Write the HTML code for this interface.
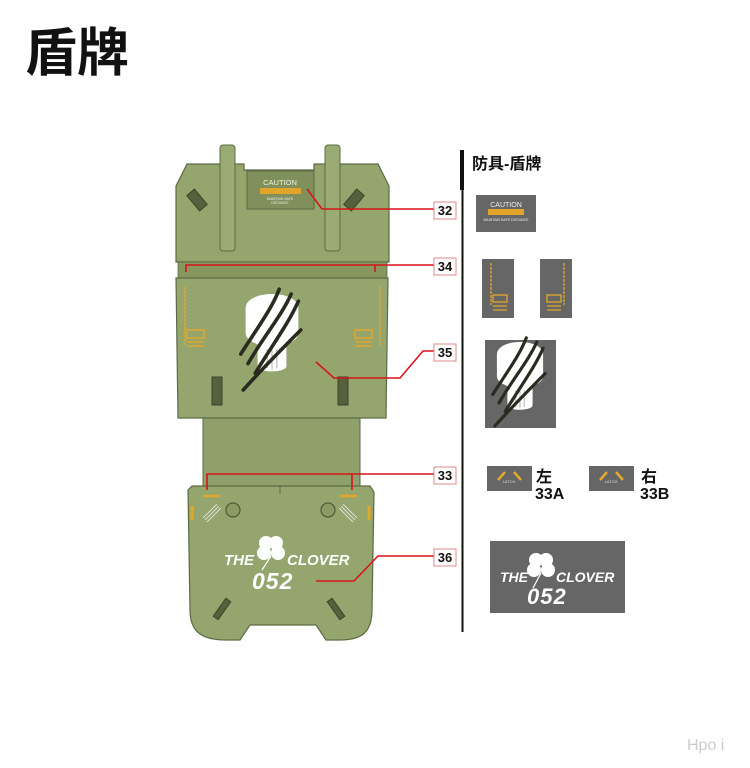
<!DOCTYPE html>
<html><head><meta charset="utf-8"><style>
html,body{margin:0;padding:0;background:#fff;}
svg{display:block}
</style></head><body>
<svg width="750" height="768" viewBox="0 0 750 768" xmlns="http://www.w3.org/2000/svg" font-family="Liberation Sans, Noto Sans CJK SC, sans-serif">
<defs>
<g id="skull">
  <path d="M-22,-28 C-22,-44 22,-44 22,-28 L22,-8 C22,-2 16,0 12,2 L12,20 C12,26 -12,26 -12,20 L-12,2 C-16,0 -22,-2 -22,-8 Z" fill="#fff"/>
  <path d="M-4,6 L-4,22 M0,6 L0,23 M4,6 L4,22" stroke="#bbb" stroke-width="1"/>
</g>
<g id="claws" fill="none" stroke="#2a2a20" stroke-width="3" stroke-linecap="round">
  <path d="M-26,10 C-12,-12 0,-28 6,-44"/>
  <path d="M-20,18 C-6,-6 8,-22 16,-40"/>
  <path d="M-14,26 C2,0 14,-16 22,-34"/>
  <path d="M-24,40 C-6,20 12,2 24,-10"/>
</g>
</defs>

<text x="25" y="71" font-size="52" font-weight="bold" fill="#111">盾牌</text>

<rect x="203" y="410" width="157" height="80" fill="#8fa06a" stroke="#5d6a44" stroke-width="1"/>

<path d="M176,186 L187,164 L244,164 L244,170 L314,170 L314,164 L378,164 L389,186 L389,262 L176,262 Z" fill="#94a56e" stroke="#5d6a44" stroke-width="1.2"/>
<rect x="247" y="171" width="67" height="38" fill="#7f905c" stroke="#5d6a44"/>
<text x="280" y="185" font-size="7.5" fill="#f4f0dc" text-anchor="middle">CAUTION</text>
<rect x="260" y="188" width="41" height="6" fill="#e0a52a"/>
<text x="280" y="200" font-size="3.5" fill="#eee" text-anchor="middle">MAINTAIN SAFE</text>
<text x="280" y="204" font-size="3.5" fill="#eee" text-anchor="middle">DISTANCE</text>
<rect x="220" y="145" width="15" height="106" rx="3" fill="#9aab74" stroke="#5d6a44"/>
<rect x="325" y="145" width="15" height="106" rx="3" fill="#9aab74" stroke="#5d6a44"/>
<rect x="192" y="190" width="10" height="20" fill="#55613c" stroke="#3c4529" transform="rotate(-40 197 200)"/>
<rect x="349" y="190" width="10" height="20" fill="#55613c" stroke="#3c4529" transform="rotate(40 354 200)"/>

<rect x="178" y="262" width="209" height="16" fill="#869760" stroke="#5d6a44" stroke-width="0.8"/>

<path d="M176,278 L388,278 L386,418 L178,418 Z" fill="#94a56e" stroke="#5d6a44" stroke-width="1.2"/>
<g fill="none" stroke="#e3a72a" stroke-width="1.5">
  <path d="M185,287 L185,345" stroke-dasharray="3,1"/>
  <rect x="187" y="330" width="17" height="8"/>
  <path d="M187,342 L204,342 M187,346 L204,346"/>
  <path d="M380,287 L380,345" stroke-dasharray="3,1"/>
  <rect x="355" y="330" width="17" height="8"/>
  <path d="M355,342 L372,342 M355,346 L372,346"/>
</g>
<g transform="translate(272,342) scale(1.2)"><use href="#skull"/><use href="#claws"/></g>
<rect x="212" y="377" width="10" height="28" fill="#55613c" stroke="#3c4529"/>
<rect x="338" y="377" width="10" height="28" fill="#55613c" stroke="#3c4529"/>

<path d="M188,490 L192,486 L370,486 L374,492 L372,610 C372,632 362,640 340,640 L326,640 L316,625 L250,625 L240,640 L226,640 C202,640 190,632 190,610 Z" fill="#94a56e" stroke="#5d6a44" stroke-width="1.2"/>
<line x1="280" y1="486" x2="280" y2="494" stroke="#5d6a44"/>
<path d="M203,496 L220,496 M340,496 L357,496" stroke="#e3a72a" stroke-width="2.5"/>
<path d="M192,506 L192,520 M369,506 L369,520" stroke="#e3a72a" stroke-width="3"/>
<g stroke="#eee" stroke-width="0.8"><path d="M203,518 L217,504 M205,520 L219,506 M207,522 L221,508"/><path d="M357,518 L343,504 M355,520 L341,506 M353,522 L339,508"/></g>
<circle cx="233" cy="510" r="7" fill="#8a9b63" stroke="#4f5a38" stroke-width="1.2"/>
<circle cx="328" cy="510" r="7" fill="#8a9b63" stroke="#4f5a38" stroke-width="1.2"/>
<g fill="#fff"><circle cx="266" cy="543" r="7"/><circle cx="276" cy="543" r="7"/><circle cx="264" cy="553" r="7"/><circle cx="278" cy="553" r="7"/></g>
<path d="M271,556 L262,570" stroke="#fff" stroke-width="1.2"/>
<text x="224" y="565" font-size="15" font-weight="bold" font-style="italic" fill="#fff">THE</text>
<text x="287" y="565" font-size="15" font-weight="bold" font-style="italic" fill="#fff">CLOVER</text>
<text x="252" y="589" font-size="23" font-weight="bold" font-style="italic" fill="#fff" letter-spacing="1">052</text>
<rect x="219" y="598" width="6" height="22" fill="#55613c" stroke="#3c4529" transform="rotate(35 222 609)"/>
<rect x="333" y="598" width="6" height="22" fill="#55613c" stroke="#3c4529" transform="rotate(-35 336 609)"/>

<g fill="none" stroke="#d8141a" stroke-width="1.6">
  <path d="M307,189 L322,209 L434,209"/>
  <path d="M186,272 L186,265 L375,265 L375,272 M375,265 L434,265"/>
  <path d="M316,362 L334,378 L400,378 L423,351 L434,351"/>
  <path d="M207,490 L207,474 L352,474 L352,490 M352,474 L434,474"/>
  <path d="M316,581 L354,581 L378,556 L434,556"/>
</g>
<g font-size="13" font-weight="bold" fill="#111" text-anchor="middle">
  <rect x="434" y="202" width="22" height="17" fill="#fff" stroke="#d88" />
  <text x="445" y="215">32</text>
  <rect x="434" y="258" width="22" height="17" fill="#fff" stroke="#d88"/>
  <text x="445" y="271">34</text>
  <rect x="434" y="344" width="22" height="17" fill="#fff" stroke="#d88"/>
  <text x="445" y="357">35</text>
  <rect x="434" y="467" width="22" height="17" fill="#fff" stroke="#d88"/>
  <text x="445" y="480">33</text>
  <rect x="434" y="549" width="22" height="17" fill="#fff" stroke="#d88"/>
  <text x="445" y="562">36</text>
</g>

<rect x="460" y="150" width="4" height="40" fill="#111"/>
<rect x="461.5" y="150" width="2" height="482" fill="#111"/>
<text x="472" y="169" font-size="16" font-weight="bold" fill="#111">防具-盾牌</text>

<rect x="476" y="195" width="60" height="37" fill="#666"/>
<text x="506" y="207" font-size="7" fill="#eee" text-anchor="middle">CAUTION</text>
<rect x="488" y="209" width="36" height="6" fill="#e0a52a"/>
<text x="506" y="221" font-size="3.5" fill="#eee" text-anchor="middle">MAINTAIN SAFE DISTANCE</text>

<rect x="482" y="259" width="32" height="59" fill="#666"/>
<rect x="540" y="259" width="32" height="59" fill="#666"/>
<g fill="none" stroke="#e3a72a" stroke-width="1.3">
  <path d="M491,263 L491,305" stroke-dasharray="3,1"/><rect x="493" y="295" width="14" height="7"/><path d="M493,306 L507,306 M493,310 L507,310"/>
  <path d="M564,263 L564,305" stroke-dasharray="3,1"/><rect x="547" y="295" width="14" height="7"/><path d="M547,306 L561,306 M547,310 L561,310"/>
</g>

<rect x="485" y="340" width="71" height="88" fill="#666"/>
<g transform="translate(520,384) scale(1.05)"><use href="#skull"/><use href="#claws"/></g>

<rect x="487" y="466" width="45" height="25" fill="#666"/>
<rect x="589" y="466" width="45" height="25" fill="#666"/>
<g stroke="#e3a72a" stroke-width="2.5"><path d="M498,480 L505,472 M521,480 L514,472 M600,480 L607,472 M623,480 L616,472"/></g>
<g font-size="4" fill="#ddd" text-anchor="middle"><text x="509" y="483">LATCH</text><text x="611" y="483">LATCH</text></g>
<g font-size="16" font-weight="bold" fill="#111">
  <text x="536" y="482">左</text><text x="535" y="499">33A</text>
  <text x="641" y="482">右</text><text x="640" y="499">33B</text>
</g>

<rect x="490" y="541" width="135" height="72" fill="#666"/>
<g fill="#fff"><circle cx="536" cy="560" r="7"/><circle cx="546" cy="560" r="7"/><circle cx="534" cy="570" r="7"/><circle cx="548" cy="570" r="7"/></g>
<path d="M541,573 L533,588" stroke="#fff" stroke-width="1.2"/>
<text x="500" y="582" font-size="14" font-weight="bold" font-style="italic" fill="#fff">THE</text>
<text x="556" y="582" font-size="14" font-weight="bold" font-style="italic" fill="#fff">CLOVER</text>
<text x="527" y="604" font-size="22" font-weight="bold" font-style="italic" fill="#fff" letter-spacing="1">052</text>

<text x="687" y="750" font-size="16" fill="#ccc">Hpo i</text>
</svg>
</body></html>
